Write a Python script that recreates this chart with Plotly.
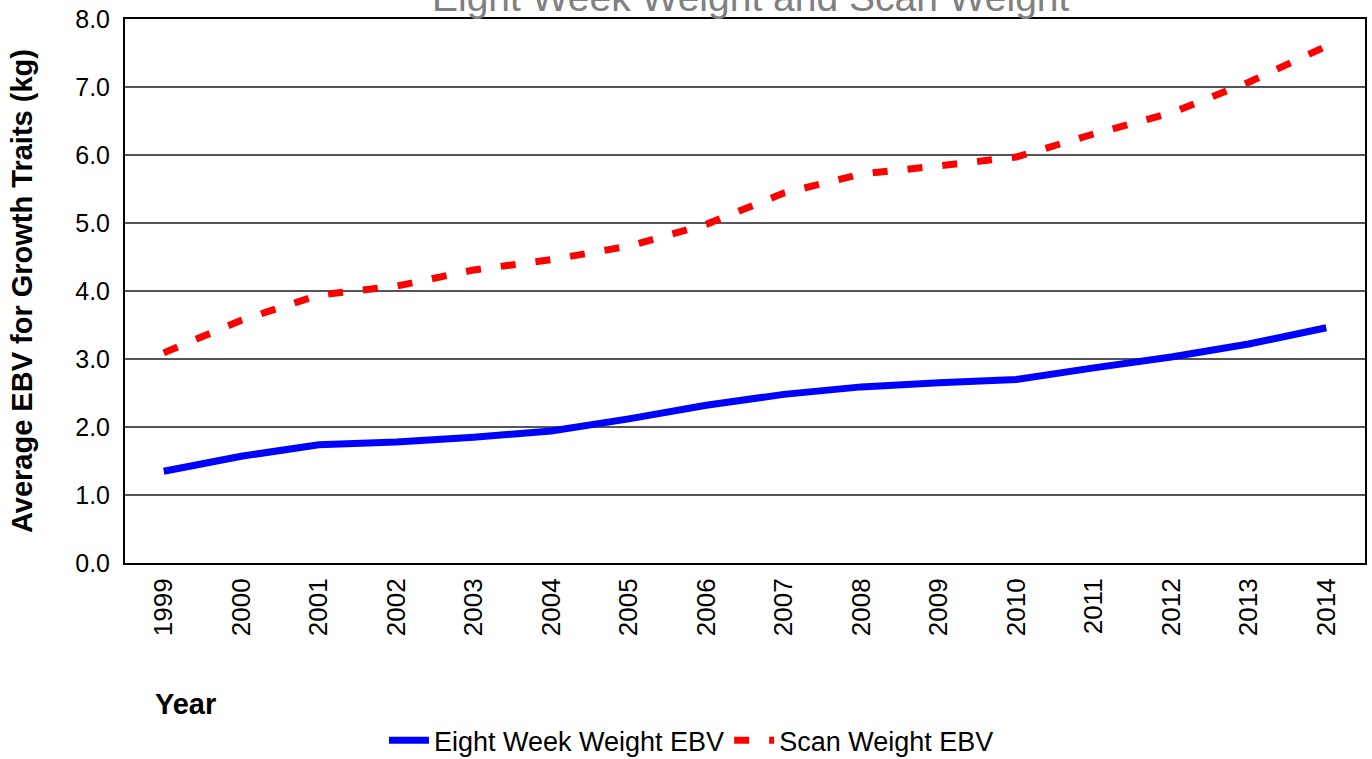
import plotly.graph_objects as go

years = ["1999", "2000", "2001", "2002", "2003", "2004", "2005", "2006",
         "2007", "2008", "2009", "2010", "2011", "2012", "2013", "2014"]
eight_week = [1.35, 1.57, 1.74, 1.78, 1.85, 1.94, 2.12, 2.32,
              2.48, 2.59, 2.65, 2.70, 2.87, 3.03, 3.22, 3.46]
scan_weight = [3.09, 3.57, 3.94, 4.07, 4.31, 4.46, 4.66, 4.98,
               5.44, 5.72, 5.84, 5.97, 6.31, 6.62, 7.07, 7.60]
y_ticks = [0, 1, 2, 3, 4, 5, 6, 7, 8]

FONT = "Liberation Sans, Arial, sans-serif"

fig = go.Figure()
fig.add_trace(go.Scatter(x=years, y=eight_week, mode="lines",
                         name="Eight Week Weight EBV",
                         line=dict(color="#0000FF", width=7)))
fig.add_trace(go.Scatter(x=years, y=scan_weight, mode="lines",
                         name="Scan Weight EBV",
                         line=dict(color="#FF0000", width=7, dash="15px,20px")))

fig.update_layout(
    width=1372, height=759,
    margin=dict(l=125, r=7, t=19, b=196, autoexpand=False),
    paper_bgcolor="white", plot_bgcolor="white",
    font=dict(family=FONT, color="black"),
    showlegend=True,
    legend=dict(orientation="h", x=0.504, xref="container", xanchor="center",
                y=0.024, yref="container", yanchor="middle",
                font=dict(size=27, family=FONT), bgcolor="rgba(0,0,0,0)",
                itemwidth=40),
    xaxis=dict(type="category", range=[-0.5, 15.5], tickangle=-90,
               tickfont=dict(size=26, family=FONT), showgrid=False,
               showline=True, linecolor="black", linewidth=2, mirror=True,
               ticks="", ticklabelstandoff=3, automargin=False),
    yaxis=dict(range=[0, 8], tickvals=y_ticks, tickformat=".1f",
               tickfont=dict(size=25, family=FONT),
               showgrid=True, gridcolor="#555555", gridwidth=2,
               showline=True, linecolor="black", linewidth=2, mirror=True,
               ticks="", ticklabelstandoff=8, zeroline=False, automargin=False),
    annotations=[
        dict(text="Eight Week Weight and Scan Weight", xref="paper", yref="paper",
             x=0.505, y=1.04, xanchor="center", yanchor="middle", showarrow=False,
             font=dict(size=39, color="#808080", family=FONT)),
        dict(text="<b>Average EBV for Growth Traits (kg)</b>", xref="paper", yref="paper",
             x=-0.083, y=0.5, xanchor="center", yanchor="middle", textangle=-90,
             showarrow=False, font=dict(size=29, family=FONT)),
        dict(text="<b>Year</b>", xref="paper", yref="paper",
             x=0.0226, y=-0.259, xanchor="left", yanchor="middle", showarrow=False,
             font=dict(size=29, family=FONT)),
    ],
)

fig.write_html("out.html", config={"displayModeBar": False},
               post_script="document.body.style.margin='0';document.body.style.overflow='hidden';")
